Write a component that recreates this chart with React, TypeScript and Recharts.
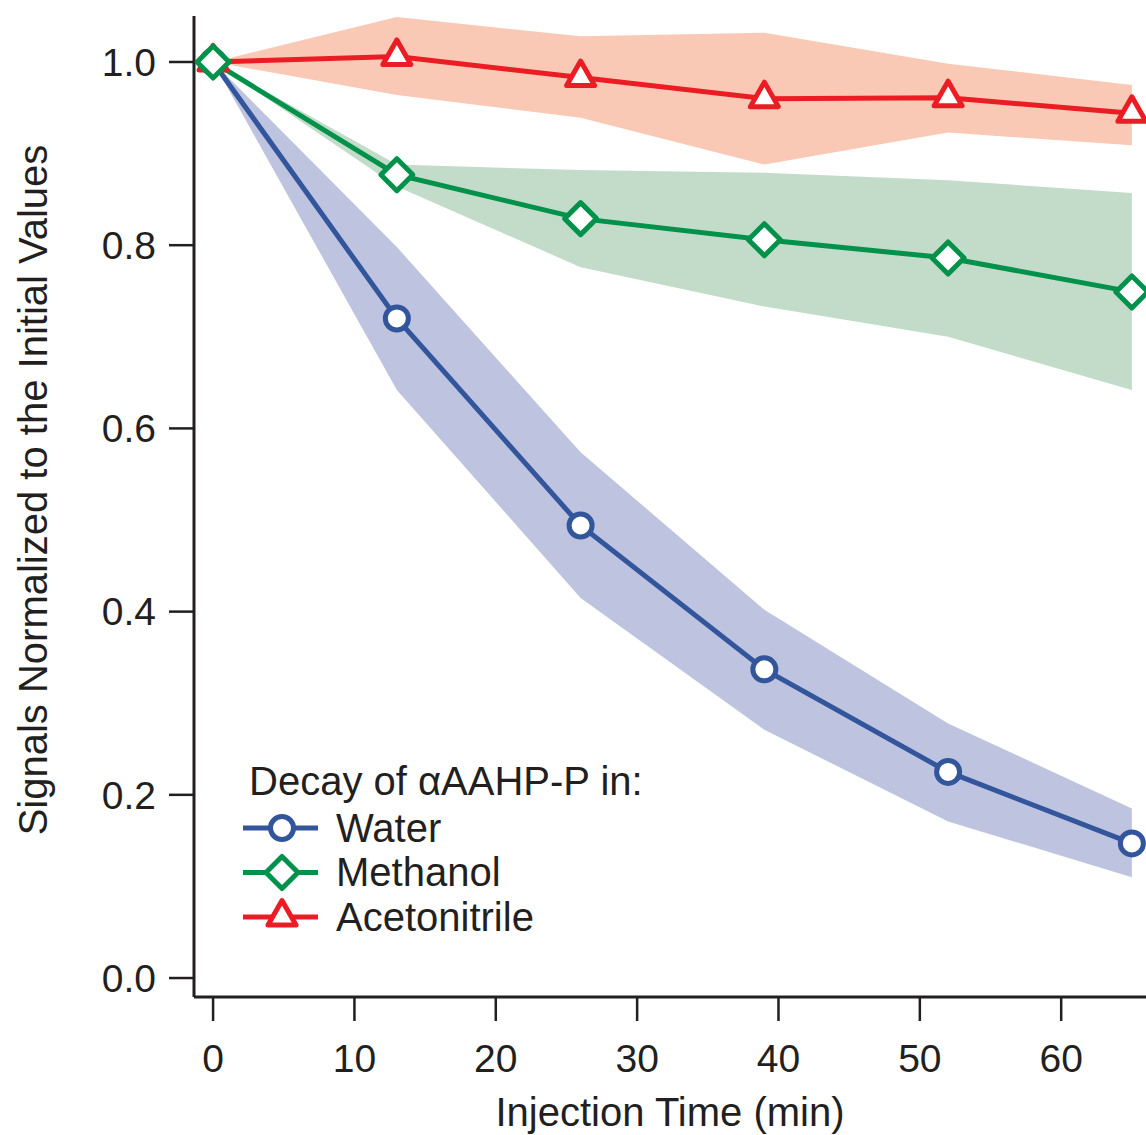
import { Area, ComposedChart, Legend, Line, XAxis, YAxis } from 'recharts';

const times = [0, 13, 26, 39, 52, 65];

const water = [1.0, 0.72, 0.494, 0.337, 0.225, 0.147];
const waterLow = [1.0, 0.642, 0.415, 0.271, 0.171, 0.11];
const waterHigh = [1.0, 0.798, 0.574, 0.402, 0.278, 0.185];

const methanol = [1.0, 0.877, 0.829, 0.806, 0.786, 0.749];
const methanolLow = [1.0, 0.864, 0.776, 0.733, 0.7, 0.642];
const methanolHigh = [1.0, 0.888, 0.882, 0.879, 0.871, 0.857];

const acetonitrile = [1.0, 1.006, 0.983, 0.96, 0.961, 0.944];
const acetonitrileLow = [1.0, 0.964, 0.939, 0.888, 0.923, 0.909];
const acetonitrileHigh = [1.0, 1.049, 1.028, 1.032, 0.998, 0.975];

const xTicks = [0, 10, 20, 30, 40, 50, 60];
const yTicks = [0, 0.2, 0.4, 0.6, 0.8, 1.0];

const INK = '#231f20';
const FONT = '"Liberation Sans", Arial, Helvetica, sans-serif';
const LABEL_SIZE = 40;
const TICK_SIZE = 39;

const colors = {
  water: '#32559c',
  waterBand: '#bec4df',
  methanol: '#00924a',
  methanolBand: '#c3dcc9',
  acetonitrile: '#ec1c24',
  acetonitrileBand: '#f9c9b5',
};

const data = times.map((t, i) => ({
  t,
  water: water[i],
  waterBand: [waterLow[i], waterHigh[i]],
  methanol: methanol[i],
  methanolBand: [methanolLow[i], methanolHigh[i]],
  acetonitrile: acetonitrile[i],
  acetonitrileBand: [acetonitrileLow[i], acetonitrileHigh[i]],
}));

type Shape = 'circle' | 'diamond' | 'triangle';

function Marker({ cx, cy, color, shape }: { cx: number; cy: number; color: string; shape: Shape }) {
  const common = { fill: '#fff', stroke: color, strokeWidth: 5, strokeLinejoin: 'round' as const };
  if (shape === 'circle') return <circle cx={cx} cy={cy} r={11.5} {...common} />;
  if (shape === 'diamond') {
    const d = 16;
    return <polygon points={`${cx},${cy - d} ${cx + d},${cy} ${cx},${cy + d} ${cx - d},${cy}`} {...common} />;
  }
  return (
    <polygon points={`${cx},${cy - 16.5} ${cx + 14},${cy + 8} ${cx - 14},${cy + 8}`} {...common} />
  );
}

function makeDot(color: string, shape: Shape) {
  return (props: any) => {
    if (props.cx == null || props.cy == null) return <g key={`${shape}-${props.index}`} />;
    return (
      <g key={`${shape}-${props.index}`}>
        <Marker cx={props.cx} cy={props.cy} color={color} shape={shape} />
      </g>
    );
  };
}

const legendRows: { name: string; color: string; shape: Shape }[] = [
  { name: 'Water', color: colors.water, shape: 'circle' },
  { name: 'Methanol', color: colors.methanol, shape: 'diamond' },
  { name: 'Acetonitrile', color: colors.acetonitrile, shape: 'triangle' },
];

function LegendBox() {
  return (
    <svg width={440} height={200} style={{ display: 'block', overflow: 'visible' }}>
      <text x={19} y={45} fontSize={LABEL_SIZE} fill={INK} fontFamily={FONT}>
        Decay of αAAHP-P in:
      </text>
      {legendRows.map((r, i) => {
        const y = 78 + i * 44.5;
        return (
          <g key={r.name}>
            <line x1={13} x2={88} y1={y} y2={y} stroke={r.color} strokeWidth={5} />
            <Marker cx={52} cy={y} color={r.color} shape={r.shape} />
            <text x={106} y={y + 13.5} fontSize={LABEL_SIZE} fill={INK} fontFamily={FONT}>
              {r.name}
            </text>
          </g>
        );
      })}
    </svg>
  );
}

export default function App() {
  return (
    <div style={{ position: 'absolute', left: 0, top: 0, fontFamily: FONT }}>
      <ComposedChart width={1146} height={1135} data={data} margin={{ top: 16, right: 0, bottom: 0, left: 0 }}>
        <XAxis
          dataKey="t"
          type="number"
          domain={[-1.35, 66]}
          ticks={xTicks}
          height={138}
          axisLine={{ stroke: INK, strokeWidth: 3 }}
          tickLine={{ stroke: INK, strokeWidth: 2.5 }}
          tickSize={24}
          tickMargin={23}
          tick={{ fontSize: TICK_SIZE, fill: INK, fontFamily: FONT }}
          label={{
            content: ({ viewBox }: any) => (
              <text
                x={viewBox.x + viewBox.width / 2}
                y={viewBox.y + 129}
                textAnchor="middle"
                fontSize={LABEL_SIZE}
                fill={INK}
                fontFamily={FONT}
              >
                Injection Time (min)
              </text>
            ),
          }}
        />
        <YAxis
          type="number"
          domain={[-0.0207, 1.0502]}
          ticks={yTicks}
          width={194}
          axisLine={{ stroke: INK, strokeWidth: 3 }}
          tickLine={{ stroke: INK, strokeWidth: 2.5 }}
          tickSize={25}
          tickMargin={13}
          tickFormatter={(v: number) => v.toFixed(1)}
          tick={{ fontSize: TICK_SIZE, fill: INK, fontFamily: FONT }}
          label={{
            content: ({ viewBox }: any) => (
              <text
                x={viewBox.x + 47}
                y={490}
                transform={`rotate(-90, ${viewBox.x + 47}, 490)`}
                textAnchor="middle"
                fontSize={LABEL_SIZE}
                fill={INK}
                fontFamily={FONT}
              >
                Signals Normalized to the Initial Values
              </text>
            ),
          }}
        />
        <Area dataKey="waterBand" type="linear" stroke="none" fill={colors.waterBand} fillOpacity={1} isAnimationActive={false} />
        <Area dataKey="methanolBand" type="linear" stroke="none" fill={colors.methanolBand} fillOpacity={1} isAnimationActive={false} />
        <Area dataKey="acetonitrileBand" type="linear" stroke="none" fill={colors.acetonitrileBand} fillOpacity={1} isAnimationActive={false} />
        <Line dataKey="water" type="linear" stroke={colors.water} strokeWidth={5} dot={makeDot(colors.water, 'circle')} isAnimationActive={false} />
        <Line dataKey="acetonitrile" type="linear" stroke={colors.acetonitrile} strokeWidth={5} dot={makeDot(colors.acetonitrile, 'triangle')} isAnimationActive={false} />
        <Line dataKey="methanol" type="linear" stroke={colors.methanol} strokeWidth={5} dot={makeDot(colors.methanol, 'diamond')} isAnimationActive={false} />
        <Legend
          layout="horizontal"
          verticalAlign="middle"
          content={() => <LegendBox />}
          wrapperStyle={{ position: 'absolute', left: 230, top: 750, width: 440, height: 200 }}
        />
      </ComposedChart>
    </div>
  );
}
